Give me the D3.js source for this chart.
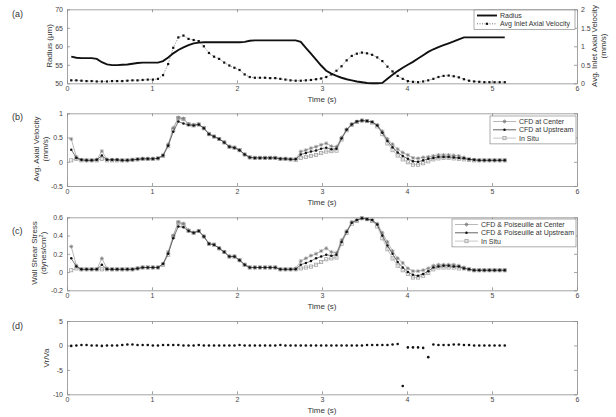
<!DOCTYPE html>
<html>
<head>
<meta charset="utf-8">
<script src="https://cdn.jsdelivr.net/npm/d3@7/dist/d3.min.js"></script>
<style>
  body { margin: 0; background: #fff; }
  svg { font-family: "Liberation Sans", Arial, sans-serif; }
  .tk text { font-size: 7px; fill: #444; }
  .tk path, .tk line { stroke: #8c8c8c; stroke-width: 0.8; }
  .lab { font-size: 8px; fill: #333; }
  .leg { font-size: 7px; fill: #333; }
</style>
</head>
<body>
<svg id="fig" width="616" height="417"></svg>
<script>
// frame times (s): one frame every 0.06 s starting at 0.05 s
const t0 = 0.05, dt = 0.06, nFrames = 86;
const time = d3.range(nFrames).map(i => +(t0 + i * dt).toFixed(2));
const xTicks = [0, 1, 2, 3, 4, 5, 6];

// (a) vessel radius (um) and avg inlet axial velocity (mm/s)
const radius = [
  57.2,56.9,56.8,56.8,56.8,56.6,55.7,55.1,54.9,54.9,
  55.0,55.1,55.3,55.5,55.6,55.6,55.6,55.6,56.0,57.0,
  58.1,59.0,59.7,60.3,60.8,61.0,61.1,61.1,61.1,61.1,
  61.1,61.1,61.1,61.1,61.2,61.5,61.6,61.6,61.6,61.6,
  61.6,61.6,61.6,61.6,61.6,61.2,59.6,58.0,56.4,54.8,
  53.4,52.6,52.0,51.5,51.1,50.8,50.5,50.3,50.1,50.0,
  50.0,50.1,51.2,52.3,53.3,54.2,55.0,55.8,56.7,57.6,
  58.5,59.2,59.8,60.3,60.8,61.3,61.9,62.4,62.4,62.4,
  62.4,62.4,62.4,62.4,62.4,62.4];
const inletVel = [
  0.08,0.08,0.07,0.06,0.06,0.05,0.05,0.05,0.06,0.06,
  0.06,0.07,0.08,0.08,0.09,0.10,0.10,0.12,0.22,0.52,
  0.96,1.24,1.29,1.20,1.17,1.14,1.00,0.82,0.72,0.66,
  0.56,0.48,0.42,0.36,0.24,0.17,0.15,0.15,0.15,0.14,
  0.14,0.12,0.10,0.08,0.07,0.07,0.08,0.09,0.11,0.13,
  0.17,0.24,0.34,0.46,0.62,0.74,0.80,0.83,0.81,0.77,
  0.70,0.60,0.45,0.32,0.20,0.12,0.06,0.04,0.03,0.05,
  0.08,0.12,0.17,0.20,0.21,0.19,0.16,0.11,0.07,0.05,
  0.04,0.03,0.03,0.03,0.03,0.03];

// (b) avg axial velocity (mm/s)
const velCenter = [
  0.47,0.10,0.04,0.03,0.03,0.04,0.22,0.05,0.04,0.04,
  0.03,0.03,0.04,0.05,0.06,0.06,0.06,0.07,0.14,0.36,
  0.70,0.91,0.89,0.78,0.76,0.77,0.70,0.58,0.52,0.47,
  0.40,0.31,0.29,0.24,0.15,0.09,0.08,0.08,0.08,0.08,
  0.08,0.06,0.06,0.05,0.06,0.21,0.24,0.28,0.31,0.35,
  0.38,0.32,0.31,0.50,0.67,0.78,0.83,0.85,0.84,0.82,
  0.76,0.63,0.47,0.36,0.26,0.19,0.14,0.08,0.07,0.09,
  0.10,0.12,0.14,0.14,0.14,0.13,0.12,0.09,0.06,0.04,
  0.03,0.03,0.03,0.03,0.03,0.03];
const velUpstream = [
  0.25,0.08,0.04,0.03,0.03,0.04,0.13,0.04,0.04,0.04,
  0.03,0.03,0.04,0.05,0.06,0.06,0.06,0.07,0.13,0.33,
  0.62,0.83,0.79,0.76,0.75,0.77,0.69,0.57,0.52,0.47,
  0.40,0.31,0.29,0.24,0.15,0.09,0.08,0.08,0.08,0.08,
  0.08,0.06,0.06,0.05,0.05,0.15,0.18,0.21,0.23,0.27,
  0.29,0.26,0.27,0.48,0.66,0.77,0.83,0.85,0.84,0.82,
  0.75,0.60,0.43,0.30,0.19,0.12,0.06,0.01,0.00,0.03,
  0.06,0.08,0.10,0.10,0.10,0.09,0.08,0.07,0.05,0.04,
  0.03,0.03,0.03,0.03,0.03,0.03];
const velInSitu = [
  0.03,0.06,0.03,0.03,0.03,0.03,0.06,0.03,0.03,0.03,
  0.03,0.03,0.04,0.05,0.06,0.06,0.06,0.07,0.12,0.32,
  0.66,0.90,0.88,0.77,0.75,0.77,0.69,0.57,0.52,0.47,
  0.40,0.31,0.29,0.24,0.15,0.09,0.08,0.08,0.08,0.08,
  0.08,0.06,0.06,0.05,0.04,0.08,0.10,0.12,0.14,0.18,
  0.21,0.22,0.23,0.46,0.65,0.76,0.82,0.85,0.84,0.81,
  0.73,0.57,0.38,0.24,0.13,0.05,-0.01,-0.06,-0.06,-0.03,
  0.01,0.05,0.07,0.08,0.08,0.07,0.06,0.05,0.04,0.03,
  0.03,0.03,0.03,0.03,0.03,0.03];

// (c) wall shear stress (dynes/cm2)
const wssCenter = [
  0.28,0.07,0.03,0.03,0.03,0.03,0.15,0.04,0.03,0.03,
  0.03,0.03,0.03,0.04,0.05,0.05,0.05,0.05,0.09,0.22,
  0.40,0.55,0.53,0.46,0.43,0.45,0.39,0.31,0.30,0.26,
  0.22,0.17,0.17,0.13,0.08,0.05,0.05,0.05,0.05,0.05,
  0.05,0.03,0.03,0.03,0.04,0.12,0.15,0.18,0.20,0.23,
  0.26,0.22,0.21,0.35,0.45,0.55,0.57,0.59,0.58,0.57,
  0.53,0.43,0.33,0.23,0.15,0.10,0.04,0.01,0.01,0.02,
  0.04,0.07,0.08,0.08,0.08,0.08,0.07,0.05,0.03,0.02,
  0.02,0.02,0.02,0.02,0.02,0.02];
const wssUpstream = [
  0.15,0.06,0.03,0.03,0.03,0.03,0.08,0.03,0.03,0.03,
  0.03,0.03,0.03,0.04,0.05,0.05,0.05,0.05,0.09,0.20,
  0.37,0.50,0.49,0.45,0.43,0.45,0.39,0.31,0.30,0.26,
  0.22,0.17,0.17,0.13,0.08,0.05,0.05,0.05,0.05,0.05,
  0.05,0.03,0.03,0.03,0.03,0.08,0.10,0.12,0.15,0.17,
  0.19,0.18,0.19,0.33,0.44,0.54,0.57,0.59,0.58,0.57,
  0.52,0.40,0.29,0.20,0.11,0.05,0.00,-0.03,-0.04,-0.02,
  0.01,0.05,0.06,0.07,0.07,0.06,0.06,0.04,0.03,0.02,
  0.02,0.02,0.02,0.02,0.02,0.02];
const wssInSitu = [
  0.02,0.04,0.03,0.03,0.03,0.03,0.03,0.03,0.03,0.03,
  0.03,0.03,0.03,0.04,0.05,0.05,0.05,0.05,0.08,0.19,
  0.39,0.54,0.52,0.45,0.43,0.45,0.39,0.31,0.30,0.26,
  0.22,0.17,0.17,0.13,0.08,0.05,0.05,0.05,0.05,0.05,
  0.05,0.03,0.03,0.03,0.03,0.04,0.05,0.06,0.08,0.11,
  0.14,0.15,0.16,0.31,0.43,0.53,0.56,0.59,0.58,0.56,
  0.50,0.37,0.25,0.15,0.07,0.02,-0.02,-0.06,-0.06,-0.04,
  -0.01,0.03,0.05,0.05,0.05,0.05,0.04,0.04,0.03,0.02,
  0.02,0.02,0.02,0.02,0.02,0.02];

// (d) Vr/Va
const vrva = [
  -0.1,0.0,0.1,0.1,0.0,0.0,-0.1,0.0,0.0,0.0,
  0.1,0.2,0.2,0.1,0.1,0.1,0.0,0.0,0.1,0.1,
  0.1,0.1,0.0,0.0,0.0,0.1,0.0,0.0,0.0,0.0,
  0.0,0.0,0.0,0.1,0.0,0.0,0.0,0.0,0.0,0.0,
  0.0,0.1,0.0,0.0,0.0,0.0,0.0,0.0,0.0,0.0,
  0.0,0.0,0.0,0.0,0.0,0.0,0.0,0.0,0.1,0.1,
  0.1,0.1,0.1,0.2,0.3,-8.3,-0.4,-0.4,-0.4,-0.5,
  -2.4,0.2,0.1,0.1,0.1,0.2,0.2,0.1,0.1,0.0,
  0.0,0.0,0.0,0.0,0.0,0.0];

const svg = d3.select("#fig");
const L = 67, R = 577;
const x = d3.scaleLinear().domain([0, 6]).range([L, R]);
const fmt = d => String(+d.toFixed(2));

// box axes in matlab style: ticks pointing inwards on all four sides
function frame(top, bottom, yDomain, yTicks, rightAxis) {
  const y = d3.scaleLinear().domain(yDomain).range([bottom, top]);
  const g = svg.append("g");
  g.append("g").attr("class", "tk").attr("transform", `translate(0,${bottom})`)
    .call(d3.axisBottom(x).tickValues(xTicks).tickFormat(fmt).tickSizeInner(-3).tickSizeOuter(0).tickPadding(3));
  g.append("g").attr("class", "tk").attr("transform", `translate(0,${top})`)
    .call(d3.axisTop(x).tickValues(xTicks).tickFormat("").tickSizeInner(-3).tickSizeOuter(0));
  g.append("g").attr("class", "tk").attr("transform", `translate(${L},0)`)
    .call(d3.axisLeft(y).tickValues(yTicks).tickFormat(fmt).tickSizeInner(-3).tickSizeOuter(0).tickPadding(4));
  if (rightAxis) {
    const y2 = d3.scaleLinear().domain(rightAxis.domain).range([bottom, top]);
    g.append("g").attr("class", "tk").attr("transform", `translate(${R},0)`)
      .call(d3.axisRight(y2).tickValues(rightAxis.ticks).tickFormat(fmt).tickSizeInner(-3).tickSizeOuter(0).tickPadding(4));
  } else {
    g.append("g").attr("class", "tk").attr("transform", `translate(${R},0)`)
      .call(d3.axisRight(y).tickValues(yTicks).tickFormat("").tickSizeInner(-3).tickSizeOuter(0));
  }
  svg.append("text").attr("class", "lab").attr("x", (L + R) / 2).attr("y", bottom + 19)
    .attr("text-anchor", "middle").text("Time (s)");
  return y;
}

// rotated y label, one text element per line; sup = optional superscript tail
function rotLabel(xp, yc, line, sup, tail) {
  const t = svg.append("text").attr("class", "lab")
    .attr("transform", `translate(${xp},${yc}) rotate(-90)`).attr("text-anchor", "middle");
  t.append("tspan").text(line);
  if (sup) {
    t.append("tspan").attr("dy", -3).attr("font-size", "5.5px").text(sup);
    t.append("tspan").attr("dy", 3).text(tail);
  }
}

function panelTag(yp, s) {
  svg.append("text").attr("x", 12).attr("y", yp).attr("font-size", "9px").attr("fill", "#333").text(s);
}

const asterisk = s => { const a = s * 0.72; return `M${-s},0H${s}M0,${-s}V${s}M${-a},${-a}L${a},${a}M${-a},${a}L${a},${-a}`; };

function drawMarker(m, px, py, mk) {
  if (mk === "star") m.append("path").attr("transform", `translate(${px},${py})`).attr("d", asterisk(2))
    .attr("stroke", "#7a7a7a").attr("stroke-width", 0.7).attr("fill", "none");
  else if (mk === "square") m.append("rect").attr("x", px - 1.6).attr("y", py - 1.6).attr("width", 3.2).attr("height", 3.2)
    .attr("fill", "none").attr("stroke", "#a2a2a2").attr("stroke-width", 0.8);
  else if (mk === "dot") m.append("circle").attr("cx", px).attr("cy", py).attr("r", 1.25).attr("fill", "#111");
  else if (mk === "sq") m.append("rect").attr("x", px - 1.1).attr("y", py - 1.1).attr("width", 2.2).attr("height", 2.2).attr("fill", "#111");
}

function series(g, y, vals, st) {
  const line = d3.line().x((d, i) => x(time[i])).y(d => y(d));
  g.append("path").datum(vals).attr("fill", "none").attr("stroke", st.line)
    .attr("stroke-width", st.lw || 0.7).attr("stroke-dasharray", st.dash || null).attr("d", line);
  const m = g.append("g");
  vals.forEach((v, i) => drawMarker(m, x(time[i]), y(v), st.marker));
}

function legend(x0, y0, w, items, lineLen) {
  const g = svg.append("g");
  const h = items.length * 8.3 + 3;
  g.append("rect").attr("x", x0).attr("y", y0).attr("width", w).attr("height", h)
    .attr("fill", "#fff").attr("stroke", "#777").attr("stroke-width", 0.6);
  items.forEach((it, k) => {
    const yy = y0 + 5.5 + k * 8.3;
    g.append("line").attr("x1", x0 + 3).attr("x2", x0 + 3 + lineLen).attr("y1", yy).attr("y2", yy)
      .attr("stroke", it.line).attr("stroke-width", it.lw || 0.7).attr("stroke-dasharray", it.dash || null);
    if (it.marker) drawMarker(g, x0 + 3 + lineLen / 2, yy, it.marker);
    g.append("text").attr("class", "leg").attr("x", x0 + lineLen + 6).attr("y", yy + 2.5).text(it.label);
  });
}

const stCenter = { line: "#9a9a9a", marker: "star" };
const stUp = { line: "#222", marker: "dot", lw: 0.6 };
const stSitu = { line: "#b0b0b0", marker: "square" };

// ---- (a)
const yA = frame(9.3, 83.3, [50, 70], [50, 55, 60, 65, 70], { domain: [0, 2], ticks: [0, 0.5, 1, 1.5, 2] });
const yA2 = d3.scaleLinear().domain([0, 2]).range([83.3, 9.3]);
const gA = svg.append("g");
series(gA, yA2, inletVel, { line: "#8a8a8a", marker: "sq", dash: "1.5,1.2", lw: 0.8 });
gA.append("path").datum(radius).attr("fill", "none").attr("stroke", "#111").attr("stroke-width", 1.9)
  .attr("d", d3.line().x((d, i) => x(time[i])).y(d => yA(d)));
panelTag(17, "(a)");
rotLabel(52, 46, "Radius (\u03bcm)");
rotLabel(597, 46, "Avg. Inlet Axial Velocity");
rotLabel(606, 46, "(mm/s)");
legend(474, 10, 101, [
  { label: "Radius", line: "#111", lw: 1.9 },
  { label: "Avg Inlet Axial Velocity", line: "#333", dash: "1,1.5", marker: "sq" }
], 20);

// ---- (b)
const yB = frame(113.3, 186, [-0.5, 1], [-0.5, 0, 0.5, 1]);
const gB = svg.append("g");
series(gB, yB, velInSitu, stSitu);
series(gB, yB, velCenter, stCenter);
series(gB, yB, velUpstream, stUp);
panelTag(120, "(b)");
rotLabel(39, 149, "Avg. Axial Velocity");
rotLabel(48, 149, "(mm/s)");
legend(490, 116, 86, [
  { label: "CFD at Center", line: "#9a9a9a", marker: "star" },
  { label: "CFD at Upstream", line: "#222", marker: "dot" },
  { label: "In Situ", line: "#b0b0b0", marker: "square" }
], 23);

// ---- (c)
const yC = frame(217.3, 290.3, [-0.2, 0.6], [-0.2, 0, 0.2, 0.4, 0.6]);
const gC = svg.append("g");
series(gC, yC, wssInSitu, stSitu);
series(gC, yC, wssCenter, stCenter);
series(gC, yC, wssUpstream, stUp);
panelTag(234, "(c)");
rotLabel(37, 253, "Wall Shear Stress");
rotLabel(46, 253, "(dynes/cm", "2", ")");
legend(452, 219, 124, [
  { label: "CFD & Poiseuille at Center", line: "#9a9a9a", marker: "star" },
  { label: "CFD & Poiseuille at Upstream", line: "#222", marker: "dot" },
  { label: "In Situ", line: "#b0b0b0", marker: "square" }
], 23);

// ---- (d)
const yD = frame(321, 394.3, [-10, 5], [-10, -5, 0, 5]);
svg.append("g").selectAll("circle").data(vrva).join("circle")
  .attr("cx", (d, i) => x(time[i])).attr("cy", d => yD(d)).attr("r", 1.3).attr("fill", "#111");
panelTag(329, "(d)");
rotLabel(49, 358, "Vr/Va");
</script>
</body>
</html>
